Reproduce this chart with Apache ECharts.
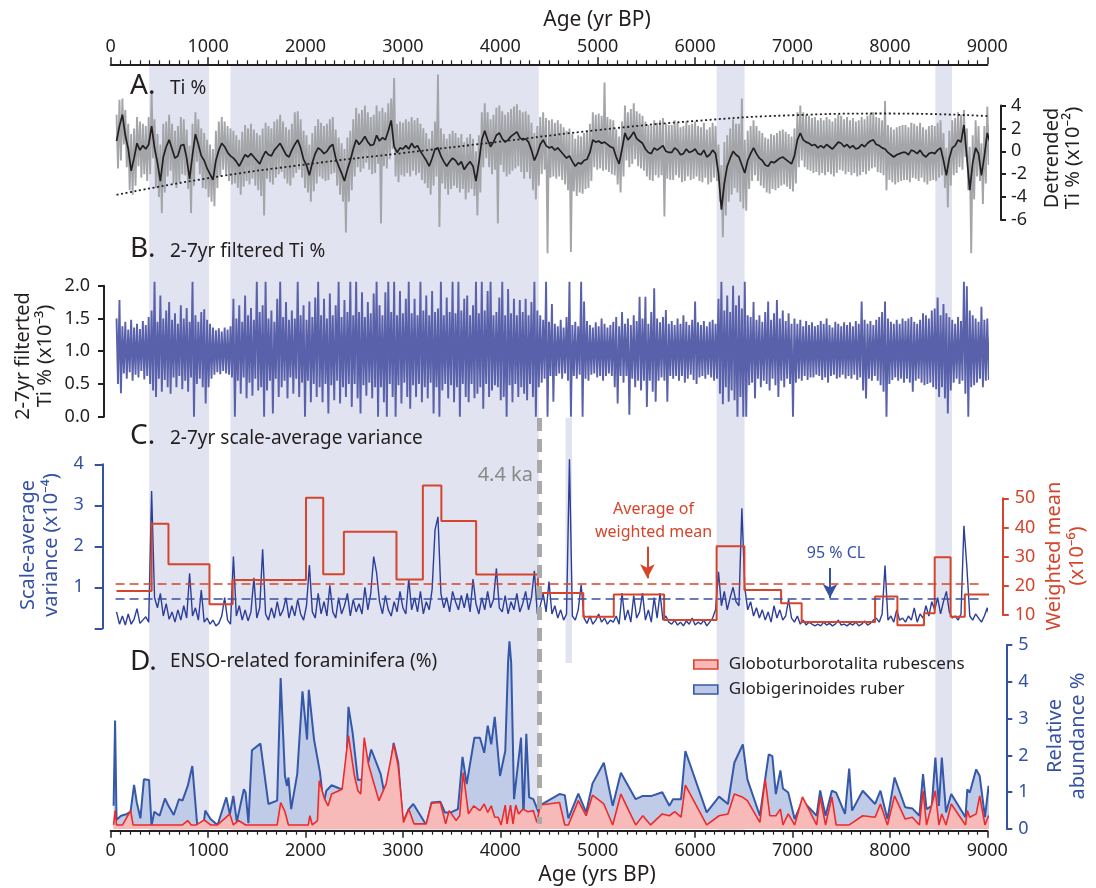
<!DOCTYPE html>
<html>
<head>
<meta charset="utf-8">
<script src="https://cdn.jsdelivr.net/npm/echarts@6/dist/echarts.min.js"></script>
<style>
html,body{margin:0;padding:0;background:#fff;}
#chart{width:1096px;height:888px;}
</style>
</head>
<body>
<div id="chart"></div>
<script>
// ---------------- data ----------------
// Shaded intervals (yr BP)
const shadedBands = [[395, 1010], [1230, 4395], [6221, 6508], [8467, 8637]];
const narrowBand = [4670, 4736];
const eventAge = 4400;            // 4.4 ka

// A. Detrended Ti % (x10^-2), sampled every 30 yr from 60 yr BP
const tiStart = 60, tiStep = 30;
const tiSmooth = [
 0.9,2.2,3.2,1.4,0.2,-1.7,-0.6,0.7,0.1,0.5,
 0.2,0.6,2.2,0.3,-1.0,-2.6,-0.5,0.4,1.0,0.2,
 -0.6,-0.4,0.5,0.6,-0.6,-2.4,-0.3,1.5,0.6,-0.4,
 -0.8,-1.5,-2.0,-2.5,-0.8,0.1,0.7,0.4,-0.1,-0.4,
 -0.6,-0.9,-1.3,-0.8,-0.3,-0.5,-0.2,-0.5,-0.8,-1.1,
 -0.5,0.0,-0.3,-0.4,0.1,0.4,0.7,0.2,-0.3,-0.5,
 0.1,0.6,1.0,0.3,-0.7,-1.2,-2.1,-1.0,-0.2,0.3,
 0.1,-0.2,0.0,0.4,0.6,-0.6,-1.3,-1.9,-2.6,-1.6,
 -0.8,0.2,1.0,0.6,0.9,1.3,0.8,0.5,0.6,1.4,
 0.9,1.2,1.0,1.8,2.7,0.4,-0.1,0.3,0.2,0.5,
 0.2,0.7,0.3,0.5,0.0,-0.4,-0.8,-1.3,-0.6,0.2,
 0.3,-0.4,-0.9,-1.3,-0.9,-0.6,-0.8,-1.2,-0.9,-1.6,
 -1.2,-0.9,-1.3,-2.6,-1.0,1.0,1.8,1.0,0.4,0.8,
 1.4,1.6,1.1,0.8,1.0,1.3,1.5,1.7,1.2,1.0,
 1.1,0.8,0.1,-0.8,-0.2,0.6,1.0,0.5,0.3,0.4,
 0.1,0.3,0.0,-0.3,-0.6,-0.4,-0.9,-1.3,-1.0,-1.1,
 -0.8,-0.7,-0.1,1.0,0.8,0.9,0.7,0.8,0.6,0.4,
 0.3,-0.5,-1.1,0.2,1.6,1.0,1.3,1.7,1.1,0.9,
 0.7,0.2,-0.1,-0.2,0.3,0.1,0.3,0.5,0.0,-0.1,
 -0.1,0.3,0.1,-0.3,-0.2,0.2,-0.1,0.0,0.2,-0.2,
 -0.3,0.1,-0.5,-0.3,0.1,-0.2,-1.9,-5.1,-2.8,-1.3,
 -0.6,0.0,-0.3,-0.5,-1.2,-1.9,-0.8,-0.2,0.3,-0.2,
 -0.6,-0.8,-1.2,-1.3,-0.9,-1.0,-0.8,-0.6,-0.5,-0.7,
 -0.9,-1.1,-0.4,1.0,1.6,1.0,0.8,0.7,0.5,0.6,
 0.3,0.5,0.3,0.6,0.4,0.2,0.5,0.8,0.7,0.4,
 0.6,0.3,0.5,0.2,0.3,0.6,0.4,0.7,0.9,1.0,
 0.6,0.5,0.3,0.2,-0.1,-0.3,-0.5,-0.3,-0.2,-0.1,
 -0.1,-0.3,0.1,0.0,-0.2,0.1,-0.3,-0.5,-0.2,-0.1,
 -0.2,0.1,0.3,-0.8,-2.1,-0.6,0.3,0.5,1.0,0.8,
 2.3,-0.5,-3.4,-1.0,0.3,-0.2,-2.1,-0.4,1.6,0.7
];
// raw Ti % range within each 30-yr step (upper / lower)
const tiRawHigh = [
 3.2,4.5,4.6,3.6,2.4,1.5,2.0,3.0,2.6,2.4,
 2.2,3.0,5.3,2.8,1.5,0.6,2.4,2.6,3.2,2.4,
 1.8,2.2,3.0,2.8,1.9,0.5,2.4,3.4,2.8,2.0,
 1.6,1.0,0.6,0.2,1.8,2.6,3.0,2.6,2.2,2.0,
 1.8,1.4,1.0,1.7,2.3,2.0,2.4,1.9,1.6,1.4,
 2.0,2.5,2.2,2.0,2.6,2.8,3.2,2.6,2.1,1.9,
 2.4,3.4,3.5,2.8,1.8,1.4,0.6,1.6,2.2,2.8,
 2.5,2.2,2.4,2.8,3.0,1.9,1.2,0.7,0.2,1.2,
 1.8,2.8,3.8,3.3,3.6,4.0,3.4,3.0,3.2,4.0,
 3.5,3.8,3.4,4.2,4.6,6.4,2.4,2.6,2.5,2.8,
 2.6,3.0,2.7,2.9,2.4,2.0,1.6,1.1,1.8,2.6,
 6.7,2.0,1.5,1.1,1.5,1.8,1.6,1.2,1.5,0.8,
 1.2,1.5,1.1,0.0,1.4,3.4,4.2,3.4,2.8,3.2,
 3.8,4.0,3.5,3.2,3.4,3.7,3.9,4.1,3.6,3.4,
 3.5,3.2,2.5,1.6,2.2,3.0,3.4,2.9,2.7,2.8,
 2.5,2.7,2.4,2.1,1.8,2.0,1.5,1.1,1.4,1.3,
 1.6,1.8,2.4,3.4,3.2,3.3,3.1,6.0,3.0,2.8,
 2.7,1.9,1.3,2.6,4.0,3.4,3.7,4.2,3.5,3.3,
 3.1,2.6,2.3,2.2,2.7,2.5,2.7,2.9,2.4,2.3,
 2.3,2.7,2.5,2.1,2.2,2.6,2.3,2.4,2.6,2.2,
 2.1,2.5,1.9,2.1,2.5,2.2,0.6,-1.2,0.8,1.4,
 2.0,2.8,2.4,2.4,4.6,1.0,1.8,2.2,2.7,2.2,
 1.8,1.6,1.2,1.1,1.5,1.4,1.6,1.8,1.9,1.7,
 1.5,1.3,2.0,3.4,4.0,3.4,3.2,3.1,2.9,3.0,
 2.7,2.9,2.7,3.0,2.8,2.6,2.9,3.2,3.1,2.8,
 3.0,2.7,2.9,2.6,2.7,3.0,2.8,3.1,3.3,3.4,
 3.0,2.9,2.7,4.4,2.3,2.1,1.9,2.1,2.2,2.3,
 2.3,2.1,2.5,2.4,2.2,2.5,2.1,1.9,2.2,2.3,
 2.2,2.5,2.7,1.6,0.3,1.8,2.7,2.9,3.4,3.2,
 3.6,2.0,0.4,1.4,2.7,2.2,0.7,2.2,3.9,3.4
];
const tiRawLow = [
 -1.5,-0.8,0.6,-1.4,-3.4,-3.8,-3.0,-1.3,-2.3,-2.0,
 -2.6,-2.0,-0.6,-3.2,-4.0,-5.4,-3.6,-2.2,-1.7,-2.8,
 -3.2,-2.7,-2.0,-2.1,-3.3,-5.4,-3.0,-0.9,-2.0,-3.2,
 -3.3,-4.0,-4.4,-4.8,-3.2,-2.2,-1.6,-2.0,-2.6,-2.9,
 -2.8,-3.2,-3.8,-3.1,-2.6,-2.9,-2.4,-3.0,-3.4,-3.9,
 -5.6,-2.4,-2.7,-2.9,-2.3,-2.0,-1.8,-2.4,-2.8,-3.0,
 -2.3,-1.9,-1.6,-2.3,-3.2,-3.6,-4.4,-3.5,-2.8,-2.2,
 -2.4,-2.6,-2.5,-2.0,-1.9,-3.0,-3.8,-4.4,-7.1,-4.4,
 -3.4,-2.2,-1.4,-1.8,-1.5,-1.0,-1.6,-2.0,-1.9,-1.1,
 -6.3,-1.3,-1.5,-0.7,0.2,-2.2,-2.7,-2.1,-2.2,-1.9,
 -2.2,-1.7,-2.1,-1.9,-2.5,-2.8,-3.2,-3.8,-3.0,-2.2,
 -6.6,-2.8,-3.3,-3.8,-3.3,-3.0,-3.2,-3.6,-3.3,-4.2,
 -3.6,-3.3,-3.9,-5.6,-3.6,-1.4,-0.6,-1.4,-2.0,-1.6,
 -6.3,-1.2,-1.8,-2.2,-2.0,-1.7,-1.5,-1.3,-1.8,-2.4,
 -1.8,-2.4,-3.4,-4.2,-3.0,-2.0,-1.6,-8.9,-2.3,-2.2,
 -2.4,-2.2,-2.5,-2.9,-3.4,-8.8,-3.5,-3.9,-3.6,-3.7,
 -3.3,-3.2,-2.6,-1.4,-1.6,-1.5,-1.7,-1.6,-1.8,-2.0,
 -2.1,-2.9,-3.6,-2.2,-0.8,-1.4,-1.1,-0.7,-1.3,-1.5,
 -1.7,-2.2,-2.5,-2.6,-2.1,-2.3,-2.1,-5.7,-2.4,-2.5,
 -2.5,-2.1,-2.3,-2.7,-2.6,-2.2,-2.5,-2.4,-2.2,-2.6,
 -2.7,-2.3,-2.9,-2.7,-2.3,-2.6,-4.4,-7.5,-5.6,-4.4,
 -3.8,-3.2,-3.6,-4.4,-5.0,-5.2,-3.3,-2.6,-2.1,-2.6,
 -3.0,-3.2,-3.6,-3.7,-3.3,-3.4,-3.2,-3.0,-2.9,-3.1,
 -3.3,-3.5,-2.8,-1.4,-0.8,-1.4,-1.6,-1.7,-1.9,-1.8,
 -2.1,-1.9,-2.1,-1.8,-2.0,-2.2,-1.9,-1.6,-1.7,-2.0,
 -1.8,-2.1,-1.9,-2.2,-2.1,-1.8,-2.0,-1.7,-1.5,-1.4,
 -1.8,-1.9,-2.1,-3.4,-2.5,-2.7,-2.9,-2.7,-2.6,-2.5,
 -2.5,-2.7,-2.3,-2.4,-2.6,-2.3,-2.7,-2.9,-2.6,-2.5,
 -2.6,-2.3,-2.1,-3.2,-4.9,-3.0,-2.1,-1.9,-1.4,-1.6,
 -0.5,-3.4,-8.9,-4.2,-2.2,-2.6,-4.6,-2.8,-1.2,-1.4
];
// long-term Ti % trend
const trendAges = [60, 1000, 2000, 3000, 4000, 5000, 6000, 7000, 8000, 9000];
const trendValues = [-3.8, -2.35, -1.15, -0.15, 0.85, 1.85, 2.65, 3.15, 3.3, 3.08];

// B. 2-7 yr filtered Ti % (x10^-3), upper / lower within each 30-yr step from 60 yr BP
const filtStart = 60, filtStep = 30;
const filtHigh = [
 1.50,1.78,1.38,1.45,1.33,1.48,1.36,1.42,1.34,1.46,
 1.40,1.52,1.62,2.06,1.45,1.85,1.50,1.62,1.75,1.48,
 1.58,1.42,1.70,1.50,1.66,1.45,2.06,1.55,1.45,1.60,
 1.64,1.48,1.42,1.36,1.32,1.35,1.30,1.36,1.33,1.38,
 1.80,1.50,1.70,1.45,1.85,1.55,1.66,1.48,2.06,1.60,
 1.70,2.06,1.50,1.62,1.45,1.80,2.06,1.52,1.75,1.48,
 1.62,1.50,2.06,1.55,1.70,1.48,1.76,1.52,1.82,2.06,
 1.55,1.80,1.50,1.88,1.55,1.70,2.06,1.52,1.78,1.60,
 2.06,1.55,2.06,1.60,1.90,1.52,1.75,1.58,1.88,2.06,
 1.70,1.55,1.90,2.06,1.60,2.06,1.55,1.92,1.58,1.80,
 2.06,1.58,1.80,1.55,2.06,1.62,1.85,1.55,1.92,1.60,
 1.65,2.06,1.55,1.82,1.60,2.06,1.58,2.06,1.62,1.80,
 1.85,1.55,1.70,2.06,1.58,2.06,1.62,1.92,2.06,1.55,
 1.60,1.82,2.06,1.55,1.95,1.58,1.80,1.55,1.78,1.60,
 1.80,1.55,1.75,2.06,1.62,1.55,1.48,2.06,1.45,1.72,
 1.42,1.38,1.48,1.36,1.52,2.06,1.40,1.45,1.38,2.06,
 1.76,1.46,1.40,1.36,1.44,1.38,1.50,1.42,1.36,1.40,
 1.45,1.52,1.38,1.60,1.42,1.50,1.40,1.55,1.46,1.83,
 1.50,1.83,1.42,1.60,1.96,1.50,1.44,1.52,1.63,1.42,
 1.46,1.40,1.50,1.42,1.55,1.45,1.40,1.48,1.76,1.44,
 1.40,1.46,1.38,1.45,1.48,1.42,1.80,2.06,1.62,1.85,
 1.60,2.00,1.70,1.85,1.65,2.06,1.55,1.52,1.75,1.48,
 1.55,1.45,1.60,1.76,1.48,1.58,1.78,1.50,1.62,1.46,
 1.58,1.42,1.50,1.42,1.48,1.38,1.46,1.40,1.44,1.38,
 1.40,1.46,1.42,1.50,1.40,1.36,1.45,1.42,1.38,1.44,
 1.40,1.44,1.38,1.46,1.42,1.76,1.48,1.42,1.46,1.40,
 1.48,1.52,1.60,1.76,1.50,1.45,1.42,1.48,1.42,1.50,
 1.46,1.50,1.52,1.45,1.42,1.48,1.58,1.55,1.50,1.62,
 1.65,1.82,1.55,1.72,1.58,1.52,1.48,1.42,1.52,1.46,
 2.06,1.99,1.62,1.55,1.50,1.45,1.68,1.48,1.50,1.42
];
const filtLow = [
 0.50,0.36,0.66,0.58,0.68,0.55,0.64,0.60,0.70,0.57,
 0.62,0.50,0.40,0.30,0.58,0.38,0.56,0.45,0.35,0.60,
 0.45,0.62,0.42,0.55,0.38,0.60,0.00,0.50,0.58,0.45,
 0.20,0.45,0.58,0.64,0.68,0.65,0.70,0.66,0.64,0.60,
 0.00,0.55,0.35,0.60,0.28,0.52,0.32,0.58,0.40,0.45,
 0.00,0.40,0.55,0.05,0.58,0.30,0.45,0.55,0.28,0.60,
 0.35,0.58,0.30,0.52,0.00,0.55,0.22,0.50,0.30,0.45,
 0.22,0.50,0.05,0.48,0.25,0.55,0.20,0.45,0.30,0.50,
 0.15,0.50,0.28,0.05,0.48,0.32,0.52,0.28,0.45,0.00,
 0.45,0.22,0.00,0.50,0.30,0.00,0.48,0.20,0.52,0.30,
 0.12,0.48,0.30,0.50,0.22,0.45,0.28,0.52,0.05,0.45,
 0.00,0.40,0.50,0.28,0.48,0.22,0.45,0.00,0.50,0.30,
 0.22,0.50,0.28,0.35,0.45,0.12,0.50,0.30,0.40,0.48,
 0.45,0.25,0.30,0.00,0.48,0.22,0.50,0.30,0.45,0.35,
 0.25,0.50,0.30,0.00,0.45,0.52,0.58,0.00,0.62,0.23,
 0.62,0.66,0.58,0.66,0.55,0.00,0.62,0.58,0.64,0.00,
 0.58,0.55,0.64,0.66,0.60,0.62,0.55,0.62,0.66,0.62,
 0.45,0.20,0.62,0.52,0.62,0.03,0.58,0.45,0.55,0.40,
 0.55,0.15,0.55,0.38,0.23,0.55,0.60,0.55,0.23,0.62,
 0.58,0.62,0.55,0.62,0.52,0.58,0.64,0.56,0.50,0.60,
 0.62,0.58,0.64,0.60,0.55,0.58,0.35,0.19,0.45,0.23,
 0.40,0.25,0.00,0.30,0.00,0.00,0.48,0.52,0.28,0.58,
 0.45,0.55,0.50,0.40,0.58,0.48,0.30,0.55,0.45,0.58,
 0.50,0.00,0.52,0.58,0.55,0.62,0.56,0.60,0.60,0.64,
 0.62,0.56,0.60,0.52,0.62,0.64,0.58,0.60,0.64,0.58,
 0.62,0.58,0.64,0.56,0.60,0.40,0.28,0.58,0.55,0.62,
 0.55,0.48,0.38,0.00,0.50,0.56,0.60,0.55,0.58,0.52,
 0.58,0.52,0.38,0.55,0.58,0.52,0.48,0.50,0.52,0.45,
 0.42,0.30,0.45,0.28,0.05,0.40,0.52,0.58,0.50,0.55,
 0.35,0.00,0.45,0.48,0.52,0.58,0.45,0.55,0.56,0.62
];

// C. 2-7 yr scale-average variance (x10^-4), every 30 yr from 60 yr BP
const varStart = 60, varStep = 30;
const scaleVariance = [
 0.40,0.10,0.30,0.08,0.35,0.10,0.22,0.48,0.12,0.20,
 0.28,0.15,3.35,0.75,0.50,0.85,0.30,0.60,0.22,0.40,
 0.15,0.45,0.20,0.55,0.25,1.34,0.30,0.50,0.20,0.93,
 0.15,0.25,0.10,0.20,0.06,0.12,0.30,0.75,0.20,0.10,
 1.75,0.30,0.55,0.20,0.45,0.18,0.40,1.23,0.25,0.50,
 1.93,0.35,0.20,0.50,0.25,0.65,0.30,0.45,0.75,0.25,
 0.55,0.30,0.70,0.35,0.20,0.55,1.54,0.40,0.25,0.85,
 0.35,0.65,0.30,1.05,0.40,0.25,0.75,0.35,0.55,0.85,
 0.30,0.70,0.40,0.60,0.35,1.00,0.45,0.85,1.75,1.35,
 0.65,0.35,0.80,0.45,0.30,0.65,0.40,0.90,0.50,0.35,
 1.20,0.45,0.75,0.40,0.90,0.35,0.65,0.45,0.95,2.40,
 2.72,0.85,0.50,0.75,0.40,0.90,0.65,0.45,0.80,0.50,
 0.85,0.40,1.20,0.60,0.35,0.75,0.45,0.90,0.50,0.70,
 1.46,0.50,0.40,0.80,0.35,0.65,0.45,0.85,0.40,0.60,
 0.90,0.45,0.75,1.40,0.35,0.55,0.85,0.40,1.14,0.35,
 0.55,0.25,0.45,0.20,0.35,4.12,0.30,0.20,0.45,1.06,
 0.25,0.12,0.30,0.10,0.20,0.35,0.15,0.25,0.10,0.20,
 0.15,0.30,0.10,0.86,0.20,0.45,0.15,0.80,0.25,0.40,
 0.86,0.20,0.45,0.15,0.75,0.25,0.86,0.20,0.30,0.15,
 0.10,0.20,0.08,0.15,0.06,0.18,0.10,0.25,0.08,0.15,
 0.10,0.20,0.06,0.15,0.25,0.45,1.38,0.55,0.90,0.45,
 0.75,1.00,0.65,0.55,2.93,1.00,0.45,0.65,0.30,0.50,
 0.25,0.45,0.20,0.40,0.15,0.55,0.25,0.45,0.20,0.30,
 0.70,0.25,0.15,0.30,0.10,0.20,0.08,0.15,0.10,0.06,
 0.10,0.06,0.15,0.08,0.12,0.06,0.10,0.20,0.08,0.10,
 0.06,0.12,0.08,0.15,0.06,0.10,0.18,0.08,0.12,0.20,
 0.25,0.15,0.35,1.53,0.20,0.30,0.15,0.45,0.20,0.25,
 0.15,0.30,0.20,0.50,0.15,0.35,0.25,0.55,0.30,0.65,
 0.45,0.75,0.35,0.65,0.90,0.40,0.25,0.30,0.20,0.35,
 2.50,1.50,0.30,0.20,0.35,0.25,0.15,0.30,0.50,0.20
];
const varianceCL95 = 0.71;
// weighted mean of the variance (x10^-6): interval boundaries and levels
const wmAges = [60, 420, 593, 1014, 1252, 2005, 2182, 2394, 2934, 3205, 3395, 3752, 4386, 4852,
                5165, 5682, 6221, 6506, 6883, 7094, 7848, 8077, 8350, 8460, 8623, 8769, 9040];
const wmLevels = [18.2, 41.3, 27.4, 13.7, 22.0, 50.2, 24.0, 38.5, 22.2, 54.4, 42.2, 23.9, 17.5,
                  9.4, 17.0, 8.3, 33.6, 18.6, 14.0, 7.6, 16.3, 6.5, 10.6, 29.8, 9.4, 17.0];
const wmAverage = 20.6;

// D. ENSO-related foraminifera, relative abundance (%)
const ruberAges = [
 30,45,60,106,160,204,240,268,305,341,
 394,419,448,502,557,593,647,701,737,791,
 838,888,953,971,1025,1097,1187,1223,1259,1295,
 1367,1385,1414,1450,1537,1619,1709,1745,1789,1810,
 1825,1853,1915,1969,2016,2034,2088,2149,2185,2214,
 2268,2350,2412,2441,2484,2538,2603,2675,2772,2827,
 2905,2952,2999,3060,3107,3240,3294,3385,3431,3493,
 3565,3612,3655,3734,3791,3835,3871,3907,3943,3997,
 4051,4080,4094,4112,4141,4213,4238,4267,4296,4339,
 4393,4420,4608,4662,4699,4801,4881,4947,5063,5154,
 5238,5390,5463,5554,5663,5736,5773,5856,5900,6119,
 6246,6337,6403,6490,6537,6665,6756,6793,6829,6876,
 6902,6956,7022,7102,7248,7284,7339,7404,7448,7539,
 7582,7612,7721,7848,7903,7975,8048,8157,8230,8303,
 8340,8376,8430,8467,8503,8533,8576,8630,8776,8795,
 8820,8886,8922,8976,9013,9060
];
const ruberPct = [
 0.63,2.95,0.25,0.36,0.40,0.47,1.20,0.72,0.29,1.35,
 1.33,0.09,0.47,0.36,0.83,0.63,0.38,0.81,0.77,1.17,
 1.71,0.11,0.11,0.50,0.27,0.11,0.86,0.40,0.90,0.20,
 1.08,0.99,0.16,2.14,2.32,0.68,0.77,4.10,1.44,1.17,
 1.40,0.54,1.49,3.74,2.43,3.78,2.43,1.53,0.68,1.04,
 1.19,1.10,1.06,3.32,2.61,1.33,1.35,2.16,1.49,0.72,
 2.34,1.80,0.16,0.54,0.68,0.11,0.72,0.74,0.45,0.45,
 0.54,1.96,1.22,2.48,2.48,2.07,2.81,2.30,3.05,1.44,
 2.12,4.55,5.10,4.50,0.81,2.48,0.32,2.59,0.86,0.81,
 0.45,0.66,0.95,0.92,0.29,0.96,0.45,1.24,1.80,0.63,
 1.53,0.81,0.90,0.90,1.00,0.63,0.81,0.81,2.12,0.45,
 0.88,0.68,1.80,2.30,1.35,0.36,2.03,1.98,0.95,1.59,
 1.10,0.99,0.27,0.77,0.36,1.05,0.36,1.04,0.99,0.41,
 1.64,0.50,1.04,0.68,1.04,0.27,1.40,0.59,0.56,0.36,
 1.49,0.54,0.63,1.94,0.63,1.94,0.45,0.95,0.32,1.08,
 0.99,1.62,1.44,0.32,1.17,0.50
];
const rubescensAges = [
 30,46,60,122,204,230,737,791,826,880,
 960,1025,1097,1223,1259,1313,1385,1709,1745,1789,
 1825,2028,2045,2070,2123,2141,2196,2232,2268,2376,
 2441,2503,2538,2567,2603,2646,2754,2827,2905,2952,
 3006,3060,3114,3240,3294,3385,3439,3475,3547,3583,
 3619,3673,3727,3791,3835,3871,3907,3943,3979,4008,
 4051,4069,4105,4130,4159,4188,4231,4285,4339,4375,
 4411,4608,4662,4699,4801,4881,4947,5063,5154,5238,
 5390,5463,5543,5663,5736,5791,5856,5900,6119,6246,
 6337,6403,6490,6537,6665,6720,6767,6829,6876,6902,
 6956,7022,7102,7248,7284,7339,7404,7448,7582,7721,
 7848,7903,7975,8048,8157,8230,8303,8340,8376,8467,
 8503,8533,8576,8630,8776,8795,8820,8886,8922,8976,
 9013,9060
];
const rubescensPct = [
 0.11,0.50,0.11,0.11,0.50,0.11,0.11,0.23,0.11,0.11,
 0.25,0.11,0.11,0.41,0.11,0.23,0.11,0.11,0.72,0.47,
 0.11,0.11,0.36,0.11,0.23,1.31,0.81,0.63,0.95,1.08,
 2.54,1.44,1.04,0.95,2.48,1.76,0.77,1.22,2.30,1.71,
 0.18,0.54,0.14,0.14,0.70,0.72,0.14,0.50,0.23,0.36,
 1.53,0.41,0.63,0.50,0.68,0.45,0.63,0.32,0.32,0.11,
 0.65,0.14,0.65,0.14,0.65,0.41,0.54,0.47,0.50,0.18,
 0.65,0.72,0.11,0.11,0.77,0.36,0.92,0.68,0.11,0.95,
 0.11,0.36,0.11,0.41,0.36,0.47,0.32,1.19,0.11,0.36,
 0.41,0.95,0.86,0.77,0.18,1.35,0.36,0.36,0.54,0.11,
 0.41,0.11,0.87,0.11,0.87,0.11,0.87,0.11,0.11,0.36,
 0.32,0.68,0.11,0.90,0.27,0.32,0.11,1.04,0.11,1.04,
 0.11,0.41,0.11,0.68,0.11,0.50,0.32,0.41,0.90,0.11,
 0.36,0.20
];

// ---------------- helpers ----------------
const regular = (start, step, vals) => vals.map((v, i) => [start + i * step, v]);
const paired = (ages, vals) => ages.map((a, i) => [a, vals[i]]);
// a dense record shown through its upper and lower value in each step
const envelope = (start, step, hi, lo) => {
  const out = [];
  hi.forEach((h, i) => {
    const a = start + i * step;
    out.push([a, h]);
    out.push([a + step / 2, lo[i]]);
  });
  return out;
};
const stepData = wmAges.map((a, i) => [a, wmLevels[Math.min(i, wmLevels.length - 1)]]);

// ---------------- layout & style ----------------
const W = 1096, H = 888;
const PLOT_L = 110.7, PLOT_R = 987.3;
const FONT = 'Noto Sans';
const INK = '#231f20';
const BLUE = '#3552a2';
const RED = '#d5452b';
const BAND = '#e1e3f0';
const TOP_Y = 64.3, BOT_Y = 830.7;
const frac = px => (BOT_Y - px) / (BOT_Y - TOP_Y);

const gridAt = (top, height) => ({ left: PLOT_L, right: W - PLOT_R, top: top, height: height });

const hiddenX = g => ({ type: 'value', gridIndex: g, min: 0, max: 9000, show: false });
const ageAxis = (pos, margin) => ({
  type: 'value', gridIndex: 0, position: pos, min: 0, max: 9000, interval: 1000, z: 5,
  axisLine: { show: true, onZero: false, lineStyle: { color: INK, width: 2 } },
  axisTick: { show: true, length: 7, lineStyle: { color: INK, width: 1.5 } },
  minorTick: { show: true, splitNumber: 10, length: 4, lineStyle: { color: INK, width: 1.2 } },
  axisLabel: { fontSize: 18, color: INK, margin: margin, fontFamily: FONT, formatter: v => String(v) },
  splitLine: { show: false }, minorSplitLine: { show: false }
});
const valueAxis = (g, pos, offset, min, max, interval, color, margin, tick, fmt) => ({
  type: 'value', gridIndex: g, position: pos, offset: offset, min: min, max: max, interval: interval,
  axisLine: { show: true, onZero: false, lineStyle: { color: color, width: 2 } },
  axisTick: { show: true, length: tick, lineStyle: { color: color, width: 2 } },
  axisLabel: { fontSize: 18, color: color, margin: margin, fontFamily: FONT, formatter: fmt || (v => String(v)) },
  splitLine: { show: false }
});

const text = (x, y, str, size, color, align, rotation, lineHeight) => ({
  type: 'text', x: x, y: y, rotation: rotation || 0, silent: true, z: 100,
  style: {
    text: str, fontSize: size, fontFamily: FONT, fill: color || INK,
    align: align || 'left', verticalAlign: 'middle', lineHeight: lineHeight || size * 1.2
  }
});
const V = Math.PI / 2;

const option = {
  animation: false,
  backgroundColor: '#fff',
  textStyle: { fontFamily: FONT },
  grid: [
    gridAt(TOP_Y, BOT_Y - TOP_Y),   // shared age frame
    gridAt(105.5, 114.5),           // A
    gridAt(285.7, 131),             // B
    gridAt(464.3, 164),             // C variance
    gridAt(498.3, 116.7),           // C weighted mean
    gridAt(645, 184)                // D
  ],
  xAxis: [ageAxis('top', 8), ageAxis('bottom', 11), hiddenX(1), hiddenX(2), hiddenX(3), hiddenX(4), hiddenX(5)],
  yAxis: [
    { type: 'value', gridIndex: 0, min: 0, max: 1, show: false },
    valueAxis(1, 'right', 13.7, -6, 4, 2, INK, 10, 5),
    valueAxis(2, 'left', 6.7, 0, 2, 0.5, INK, 14, 6, v => v.toFixed(1)),
    valueAxis(3, 'left', 8, 0, 4, 1, BLUE, 19, 8, v => (v === 0 ? '' : String(v))),
    valueAxis(4, 'right', 15.5, 10, 50, 10, RED, 12, 6),
    valueAxis(5, 'right', 19, 0, 5, 1, BLUE, 12, 6)
  ],
  legend: {
    left: 688, top: 651, orient: 'vertical', itemWidth: 24, itemHeight: 9, itemGap: 8,
    selectedMode: false,
    textStyle: { fontSize: 17, color: INK, fontFamily: FONT, padding: [0, 0, 0, 6] },
    data: [
      { name: 'Globoturborotalita rubescens', icon: 'rect',
        itemStyle: { color: '#f8b8b8', borderColor: '#e2432c', borderWidth: 1.6 } },
      { name: 'Globigerinoides ruber', icon: 'rect',
        itemStyle: { color: '#bcc8e6', borderColor: '#3558a8', borderWidth: 1.6 } }
    ]
  },
  series: [
    { // shaded intervals and the 4.4 ka marker
      type: 'line', xAxisIndex: 0, yAxisIndex: 0, data: [], silent: true, z: 1,
      markArea: {
        silent: true, itemStyle: { color: BAND },
        data: shadedBands.map(b => [{ xAxis: b[0] }, { xAxis: b[1] }]).concat([
          [{ coord: [narrowBand[0], frac(663)] }, { coord: [narrowBand[1], frac(418)] }]
        ])
      },
      markLine: {
        silent: true, symbol: ['none', 'none'], label: { show: false },
        lineStyle: { color: '#a9a9a9', width: 5, type: [13, 8] },
        data: [[{ coord: [eventAge, frac(418)] }, { coord: [eventAge, frac(824)] }]]
      }
    },
    { // A raw
      type: 'line', xAxisIndex: 2, yAxisIndex: 1, data: envelope(tiStart, tiStep, tiRawHigh, tiRawLow),
      symbol: 'none', clip: false, silent: true, lineStyle: { color: '#a3a5a8', width: 1.9 }, z: 2
    },
    { // A trend
      type: 'line', xAxisIndex: 2, yAxisIndex: 1, data: paired(trendAges, trendValues), smooth: true,
      symbol: 'none', clip: false, silent: true, lineStyle: { color: INK, width: 1.8, type: [2, 2.6] }, z: 3
    },
    { // A smoothed
      type: 'line', xAxisIndex: 2, yAxisIndex: 1, data: regular(tiStart, tiStep, tiSmooth),
      symbol: 'none', clip: false, silent: true, lineStyle: { color: INK, width: 1.7 }, z: 4
    },
    { // B
      type: 'line', xAxisIndex: 3, yAxisIndex: 2, data: envelope(filtStart, filtStep, filtHigh, filtLow),
      symbol: 'none', clip: false, silent: true, lineStyle: { color: '#5a61ab', width: 1.9 }, z: 2
    },
    { // C variance
      type: 'line', xAxisIndex: 4, yAxisIndex: 3, data: regular(varStart, varStep, scaleVariance),
      symbol: 'none', clip: false, silent: true, lineStyle: { color: '#2c3e98', width: 1.4 }, z: 3,
      markLine: {
        silent: true, label: { show: false }, symbol: ['none', 'none'],
        data: [
          [{ coord: [50, varianceCL95], lineStyle: { color: BLUE, width: 1.6, type: [9, 5] } },
           { coord: [8940, varianceCL95] }],
          [{ coord: [7385, 1.47], symbol: 'none', lineStyle: { color: BLUE, width: 2, type: 'solid' } },
           { coord: [7385, 0.74], symbol: 'arrow', symbolSize: [11, 14] }]
        ]
      }
    },
    { // C weighted mean
      type: 'line', xAxisIndex: 5, yAxisIndex: 4, data: stepData, step: 'end',
      symbol: 'none', clip: false, silent: true, lineStyle: { color: RED, width: 2 }, z: 4,
      markLine: {
        silent: true, label: { show: false }, symbol: ['none', 'none'],
        data: [
          [{ coord: [50, wmAverage], lineStyle: { color: RED, width: 1.6, type: [9, 5] } },
           { coord: [8940, wmAverage] }],
          [{ coord: [5510, 33.4], symbol: 'none', lineStyle: { color: RED, width: 2, type: 'solid' } },
           { coord: [5510, 22.6], symbol: 'arrow', symbolSize: [11, 14] }]
        ]
      }
    },
    { // D G. ruber
      name: 'Globigerinoides ruber',
      type: 'line', xAxisIndex: 6, yAxisIndex: 5, data: paired(ruberAges, ruberPct),
      symbol: 'none', clip: false, silent: true,
      lineStyle: { color: '#3558a8', width: 2 }, itemStyle: { color: '#3558a8' },
      areaStyle: { color: '#bfcbe7', opacity: 1 }, z: 3
    },
    { // D G. rubescens
      name: 'Globoturborotalita rubescens',
      type: 'line', xAxisIndex: 6, yAxisIndex: 5, data: paired(rubescensAges, rubescensPct),
      symbol: 'none', clip: false, silent: true,
      lineStyle: { color: '#ee2a2a', width: 1.6 }, itemStyle: { color: '#ee2a2a' },
      areaStyle: { color: '#f8b9b9', opacity: 1 }, z: 4
    }
  ],
  graphic: [
    text(597, 20, 'Age (yr BP)', 21, INK, 'center'),
    text(597, 875, 'Age (yrs BP)', 21, INK, 'center'),
    text(130, 86, 'A.', 28), text(170, 88.5, 'Ti %', 19),
    text(130, 249, 'B.', 28), text(170, 251.5, '2-7yr filtered Ti %', 19),
    text(130, 436, 'C.', 28), text(170, 438.5, '2-7yr scale-average variance', 19),
    text(130, 662, 'D.', 28), text(170, 662, 'ENSO-related foraminifera (%)', 19),
    text(533, 475, '4.4 ka', 20, '#8a8a8a', 'right'),
    text(653.5, 521, 'Average of\nweighted mean', 16, RED, 'center', 0, 22.7),
    text(836, 553, '95 % CL', 16, BLUE, 'center'),
    text(1063, 158, 'Detrended\nTi % (x10\u207B\u00B2)', 20, INK, 'center', V, 21),
    text(34, 356, '2-7yr filterted\nTi % (x10\u207B\u00B3)', 20, INK, 'center', V, 22),
    text(40, 545, 'Scale-average\nvariance (x10\u207B\u2074)', 20, BLUE, 'center', V, 23),
    text(1066, 556, 'Weighted mean\n(x10\u207B\u2076)', 20, RED, 'center', V, 23),
    text(1067, 736, 'Relative\nabundance %', 20, BLUE, 'center', V, 23)
  ]
};

const chart = echarts.init(document.getElementById('chart'), null, { renderer: 'canvas', width: W, height: H });
chart.setOption(option);
</script>
</body>
</html>
